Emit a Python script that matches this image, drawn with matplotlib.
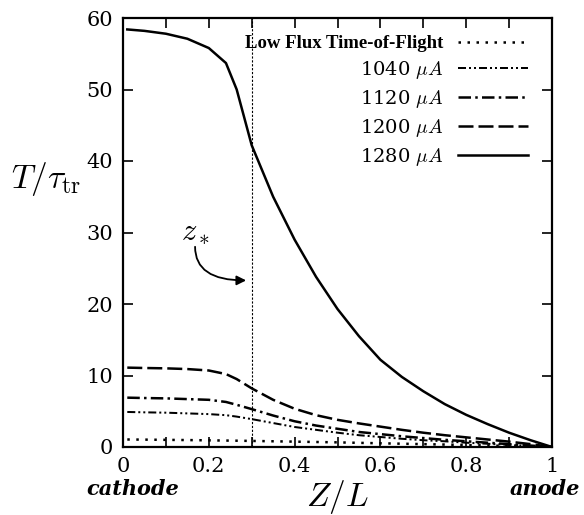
import matplotlib
matplotlib.use("Agg")
import matplotlib.pyplot as plt

plt.rcParams["font.family"] = ["DejaVu Serif"]
plt.rcParams["mathtext.fontset"] = "cm"

# Position along the gap (Z/L)
z = [0.01, 0.05, 0.1, 0.15, 0.2, 0.24, 0.265, 0.3, 0.35, 0.4, 0.45, 0.5,
     0.55, 0.6, 0.65, 0.7, 0.75, 0.8, 0.85, 0.9, 0.95, 1.0]

# T / tau_tr for each case
low_flux = [1.05, 1.03, 1.0, 0.97, 0.93, 0.9, 0.88, 0.85, 0.8, 0.75, 0.7, 0.65,
            0.58, 0.52, 0.46, 0.4, 0.34, 0.28, 0.21, 0.14, 0.07, 0.0]
i1040 = [4.9, 4.85, 4.8, 4.7, 4.6, 4.45, 4.25, 3.9, 3.35, 2.8, 2.4, 2.0,
         1.65, 1.4, 1.15, 0.95, 0.8, 0.6, 0.45, 0.3, 0.15, 0.0]
i1120 = [6.9, 6.85, 6.8, 6.7, 6.6, 6.3, 5.9, 5.3, 4.4, 3.6, 3.0, 2.55,
         2.1, 1.8, 1.5, 1.25, 1.0, 0.8, 0.6, 0.4, 0.2, 0.0]
i1200 = [11.1, 11.05, 11.0, 10.9, 10.7, 10.2, 9.5, 8.2, 6.6, 5.35, 4.45, 3.8,
         3.3, 2.85, 2.4, 2.0, 1.65, 1.35, 1.05, 0.75, 0.4, 0.0]
i1280 = [58.4, 58.2, 57.8, 57.1, 55.8, 53.7, 50.0, 42.2, 35.0, 29.0, 23.8, 19.3,
         15.5, 12.2, 9.8, 7.8, 6.0, 4.5, 3.2, 2.0, 0.95, 0.0]

labels = ["Low Flux Time-of-Flight", r"1040 $\mu A$", r"1120 $\mu A$",
          r"1200 $\mu A$", r"1280 $\mu A$"]

z_star = 0.3

fig = plt.figure(figsize=(5.84, 5.15), dpi=100)
ax = fig.add_axes([123 / 584, 68 / 515, 429 / 584, 429 / 515])

lw = 1.8
ax.plot(z, low_flux, color="black", lw=lw, linestyle=(0, (1, 2.6)), label=labels[0])
ax.plot(z, i1040, color="black", lw=lw * 0.8, linestyle=(0, (4, 1.5, 1, 1.5, 1, 1.5)), label=labels[1])
ax.plot(z, i1120, color="black", lw=lw, linestyle=(0, (5, 1.7, 1, 1.7)), label=labels[2])
ax.plot(z, i1200, color="black", lw=lw, linestyle=(0, (6, 2)), label=labels[3])
ax.plot(z, i1280, color="black", lw=lw, linestyle="-", label=labels[4])

# location of z_*
ax.axvline(z_star, color="black", lw=0.8, linestyle=(0, (2, 1.5)))
ax.text(0.17, 30.2, r"$z_*$", fontsize=22, ha="center", va="center")
ax.annotate("", xy=(0.287, 23.3), xytext=(0.168, 28.0),
            arrowprops=dict(arrowstyle="-|>", color="black", lw=1.3,
                            mutation_scale=14, shrinkA=0, shrinkB=0,
                            connectionstyle="angle3,angleA=-90,angleB=0"))

ax.set_xlim(0, 1)
ax.set_ylim(0, 60)
ax.set_xticks([i / 10 for i in range(11)])
ax.set_xticklabels(["0", "", "0.2", "", "0.4", "", "0.6", "", "0.8", "", "1"])
ax.set_yticks(range(0, 61, 10))
ax.tick_params(direction="in", length=7, width=1.2, labelsize=15, pad=7,
               top=True, right=True)
for s in ax.spines.values():
    s.set_linewidth(1.6)

ax.set_xlabel(r"$Z/L$", fontsize=24, labelpad=2)
ax.set_ylabel(r"$T/\tau_{\rm tr}$", fontsize=24, rotation=0, labelpad=30)
ax.yaxis.set_label_coords(-0.18, 0.58)

leg = ax.legend(loc="upper right", bbox_to_anchor=(0.944, 0.961), frameon=False,
                markerfirst=False, fontsize=14, handlelength=3.6, handletextpad=0.75,
                labelspacing=0.35, borderpad=0, borderaxespad=0)
for t in leg.get_texts():
    t.set_ha("right")
first = leg.get_texts()[0]
first.set_family(["Liberation Serif", "DejaVu Serif"])
first.set_fontsize(13.5)
first.set_fontweight("bold")

fig.text(133 / 584, 26 / 515, "cathode", fontsize=15, fontweight="bold",
         style="italic", ha="center", va="center")
fig.text(545 / 584, 26 / 515, "anode", fontsize=15, fontweight="bold",
         style="italic", ha="center", va="center")

fig.savefig("out.png", dpi=100)
